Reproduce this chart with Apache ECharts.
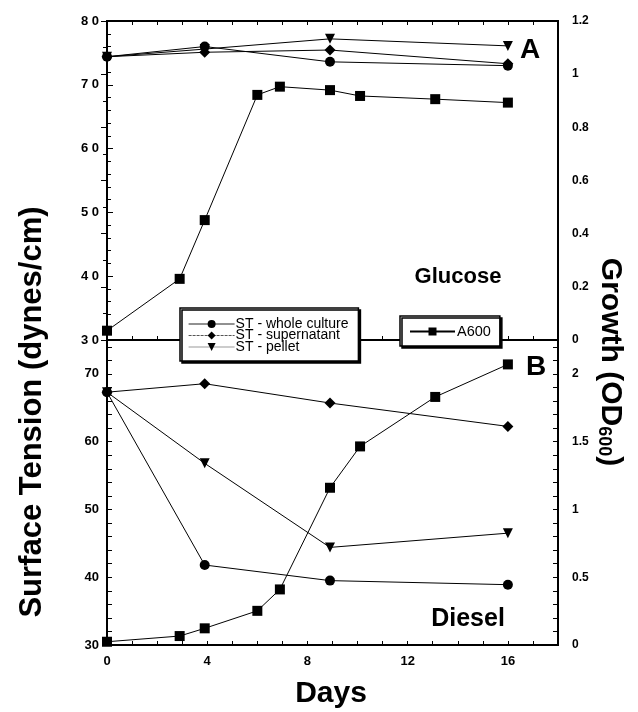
<!DOCTYPE html>
<html>
<head>
<meta charset="utf-8">
<script src="https://cdn.jsdelivr.net/npm/echarts@6/dist/echarts.min.js"></script>
<style>
html, body { margin: 0; padding: 0; background: #fff; }
#chart { width: 638px; height: 712px; }
</style>
</head>
<body>
<div id="chart"></div>
<script>
// days at which samples were taken
const stDays = [0, 3.9, 8.9, 16]
const a600Days = [0, 2.9, 3.9, 6, 6.9, 8.9, 10.1, 13.1, 16]

// panel A - glucose
const glucoseWhole = [74.4, 76.0, 73.6, 73.0]
const glucoseSuper = [74.4, 75.1, 75.45, 73.3]
const glucosePellet = [74.4, 75.6, 77.2, 76.1]
const glucoseA600 = [0.035, 0.23, 0.451, 0.922, 0.953, 0.94, 0.918, 0.906, 0.893]

// panel B - diesel
const dieselWhole = [67.3, 41.8, 39.5, 38.9]
const dieselSuper = [67.3, 68.55, 65.7, 62.25]
const dieselPellet = [67.3, 56.8, 44.4, 46.5]
const dieselA600 = [0.024, 0.066, 0.123, 0.252, 0.41, 1.16, 1.465, 1.83, 2.07]

const dayLabels = [0, 4, 8, 12, 16]
const FONT = '"Liberation Sans", Arial, Helvetica, sans-serif'

const zip = (xs, ys) => xs.map((x, i) => [x, ys[i]])

const chart = echarts.init(document.getElementById('chart'))

const tickLabel = { color: '#000', fontWeight: 'bold', fontSize: 13, fontFamily: FONT }
const axisLine = { show: true, lineStyle: { color: '#000', width: 2 } }
const boxStyle = {
  backgroundColor: '#fff', borderColor: '#000', borderWidth: 1.5,
  shadowColor: '#000', shadowBlur: 0, shadowOffsetX: 2, shadowOffsetY: 2,
  selectedMode: false,
}

function xAxisFor(grid, position, showLabels) {
  return {
    type: 'value', gridIndex: grid, position, min: 0, max: 18, interval: 1,
    axisLine, splitLine: { show: false },
    axisTick: { show: true, inside: true, length: 4, lineStyle: { color: '#000', width: 1 } },
    axisLabel: showLabels
      ? { ...tickLabel, margin: 10, formatter: (v) => (dayLabels.includes(v) ? String(v) : '') }
      : { show: false },
  }
}

function stSeries(name, symbol, xi, yi, data, extra) {
  return {
    name, type: 'line', xAxisIndex: xi, yAxisIndex: yi,
    data, symbol, symbolSize: 10, ...extra,
    lineStyle: { color: '#000', width: 1 },
    itemStyle: { color: '#000' },
    emphasis: { disabled: true },
    animation: false,
  }
}

chart.setOption({
  animation: false,
  grid: [
    { left: 107, width: 451, top: 21, height: 319, show: true, borderColor: '#000', borderWidth: 2 },
    { left: 107, width: 451, top: 340, height: 305, show: true, borderColor: '#000', borderWidth: 2 },
  ],
  xAxis: [
    xAxisFor(0, 'bottom', false),
    xAxisFor(0, 'top', false),
    xAxisFor(1, 'bottom', true),
  ],
  yAxis: [
    {
      type: 'value', gridIndex: 0, position: 'left', min: 30, max: 80, interval: 10,
      axisLine, splitLine: { show: false },
      axisTick: { inside: true, length: 6, lineStyle: { color: '#000' } },
      minorTick: { show: true, splitNumber: 5, length: 4, lineStyle: { color: '#000' } },
      axisLabel: { ...tickLabel, margin: 8, formatter: (v) => String(v).split('').join(' ') },
    },
    {
      type: 'value', gridIndex: 0, position: 'right', min: 0, max: 1.2, interval: 0.2,
      axisLine, splitLine: { show: false },
      axisTick: { inside: true, length: 6, lineStyle: { color: '#000' } },
      minorTick: { show: true, splitNumber: 2, length: 4, lineStyle: { color: '#000' } },
      axisLabel: { ...tickLabel, fontSize: 12, margin: 14 },
    },
    {
      type: 'value', gridIndex: 1, position: 'left', min: 30, max: 75, interval: 2,
      axisLine, splitLine: { show: false },
      axisTick: { inside: true, length: 5, lineStyle: { color: '#000' } },
      axisLabel: { ...tickLabel, margin: 8, formatter: (v) => (v % 10 === 0 ? String(v) : '') },
    },
    {
      type: 'value', gridIndex: 1, position: 'right', min: 0, max: 2.25, interval: 0.1,
      axisLine, splitLine: { show: false },
      axisTick: { inside: true, length: 5, lineStyle: { color: '#000' } },
      axisLabel: {
        ...tickLabel, fontSize: 12, margin: 14,
        formatter: (v) => (Math.abs(v * 2 - Math.round(v * 2)) < 1e-6 && v <= 2 ? String(v) : ''),
      },
    },
  ],
  legend: [
    {
      ...boxStyle,
      orient: 'vertical', left: 180, top: 308, padding: [9, 10, 7, 8],
      itemWidth: 46, itemHeight: 10, itemGap: -2.5,
      textStyle: { color: '#000', fontSize: 14, fontFamily: FONT, padding: [0, 0, 0, -4] },
      data: [
        { name: 'ST - whole culture', lineStyle: { color: '#222', width: 1 } },
        { name: 'ST - supernatant', lineStyle: { color: '#555', width: 1, type: [3, 1] } },
        { name: 'ST - pellet', lineStyle: { color: '#999', width: 1.2 } },
      ],
    },
    {
      ...boxStyle,
      orient: 'vertical', left: 400, top: 316, padding: [8, 9, 7, 9],
      itemWidth: 45, itemHeight: 10,
      textStyle: { color: '#000', fontSize: 14.5, fontFamily: FONT, padding: [0, 0, 0, -3] },
      data: ['A600'],
    },
  ],
  graphic: [
    { type: 'text', x: 32, y: 412, rotation: Math.PI / 2, z: 10,
      style: { text: 'Surface Tension (dynes/cm)', fontSize: 31, fontWeight: 'bold', fontFamily: FONT, fill: '#000', align: 'center', verticalAlign: 'middle' } },
    { type: 'text', x: 610, y: 362, rotation: -Math.PI / 2, z: 10,
      style: {
        text: '{a|Growth (OD}{b|600}{a|)}', align: 'center', verticalAlign: 'middle', fill: '#000',
        rich: {
          a: { fontSize: 30, fontWeight: 'bold', fontFamily: FONT, lineHeight: 30, verticalAlign: 'bottom' },
          b: { fontSize: 18, fontWeight: 'bold', fontFamily: FONT, verticalAlign: 'bottom', padding: [24, 0, 0, 0], lineHeight: 30 },
        },
      } },
    { type: 'text', x: 331, y: 694, z: 10,
      style: { text: 'Days', fontSize: 30, fontWeight: 'bold', fontFamily: FONT, fill: '#000', align: 'center', verticalAlign: 'middle' } },
    { type: 'text', x: 530, y: 50, z: 10,
      style: { text: 'A', fontSize: 28, fontWeight: 'bold', fontFamily: FONT, fill: '#000', align: 'center', verticalAlign: 'middle' } },
    { type: 'text', x: 536, y: 367, z: 10,
      style: { text: 'B', fontSize: 28, fontWeight: 'bold', fontFamily: FONT, fill: '#000', align: 'center', verticalAlign: 'middle' } },
    { type: 'text', x: 458, y: 277, z: 10,
      style: { text: 'Glucose', fontSize: 22, fontWeight: 'bold', fontFamily: FONT, fill: '#000', align: 'center', verticalAlign: 'middle' } },
    { type: 'text', x: 468, y: 619, z: 10,
      style: { text: 'Diesel', fontSize: 25, fontWeight: 'bold', fontFamily: FONT, fill: '#000', align: 'center', verticalAlign: 'middle' } },
  ],
  series: [
    stSeries('ST - whole culture', 'circle', 0, 0, zip(stDays, glucoseWhole)),
    stSeries('ST - supernatant', 'diamond', 0, 0, zip(stDays, glucoseSuper), { symbolSize: 11 }),
    stSeries('ST - pellet', 'triangle', 0, 0, zip(stDays, glucosePellet), { symbolRotate: 180 }),
    stSeries('A600', 'rect', 0, 1, zip(a600Days, glucoseA600)),
    stSeries('ST - whole culture', 'circle', 2, 2, zip(stDays, dieselWhole)),
    stSeries('ST - supernatant', 'diamond', 2, 2, zip(stDays, dieselSuper), { symbolSize: 11 }),
    stSeries('ST - pellet', 'triangle', 2, 2, zip(stDays, dieselPellet), { symbolRotate: 180 }),
    stSeries('A600', 'rect', 2, 3, zip(a600Days, dieselA600)),
  ],
})
</script>
</body>
</html>
